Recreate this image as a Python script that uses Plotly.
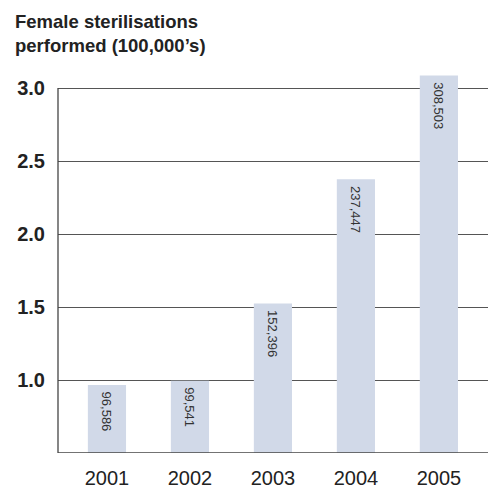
import plotly.graph_objects as go

years = ["2001", "2002", "2003", "2004", "2005"]
values = [0.96586, 0.99541, 1.52396, 2.37447, 3.08503]
labels = ["96,586", "99,541", "152,396", "237,447", "308,503"]
ytick_vals = [1.0, 1.5, 2.0, 2.5, 3.0]
ytick_text = ["1.0", "1.5", "2.0", "2.5", "3.0"]

# the page body adds an 8px margin, so the figure is sized to fill the rest
W, H = 488, 486
L, R, T, B = 50, 4, 62, 41
PW, PH = W - L - R, H - T - B

fig = go.Figure()
fig.add_trace(go.Bar(
    x=years, y=values, text=labels,
    texttemplate="\u00a0%{text}",
    textposition="inside", insidetextanchor="end", textangle=90,
    textfont=dict(family="Liberation Sans, Arial, sans-serif", size=13, color="#333333"),
    marker=dict(color="#d1d9e8", line=dict(width=0)),
    width=0.46, cliponaxis=False,
))

axis_line = "#444444"
fig.add_shape(type="line", xref="paper", yref="y", x0=0, x1=0, y0=0.5, y1=3.0,
              line=dict(color=axis_line, width=1.3))
fig.add_shape(type="line", xref="paper", yref="y", x0=0, x1=1, y0=0.5, y1=0.5,
              line=dict(color=axis_line, width=1.3))

fig.add_annotation(
    text="<b>Female sterilisations<br>performed (100,000’s)</b>",
    xref="paper", yref="paper",
    x=(5 - L) / PW, y=1 + (T - 1) / PH,
    xanchor="left", yanchor="top", align="left", showarrow=False,
    font=dict(size=18.5, color="#222222"),
)

fig.update_layout(
    width=W, height=H,
    margin=dict(l=L, r=R, t=T, b=B),
    paper_bgcolor="white", plot_bgcolor="white",
    showlegend=False,
    font=dict(family="Liberation Sans, Arial, sans-serif", color="#222222"),
    xaxis=dict(
        type="category", range=[-0.59, 4.64],
        showgrid=False, zeroline=False, showline=False, ticks="",
        tickfont=dict(size=20, color="#222222"),
        ticklabelstandoff=11,
    ),
    yaxis=dict(
        range=[0.5, 0.5 + PH / 146],
        tickvals=ytick_vals, ticktext=[f"<b>{t}</b>" for t in ytick_text],
        showgrid=True, gridcolor="#555555", gridwidth=1,
        zeroline=False, showline=False, ticks="",
        tickfont=dict(size=20, color="#222222"),
        ticklabelstandoff=12,
    ),
)

fig.write_html("out.html")
